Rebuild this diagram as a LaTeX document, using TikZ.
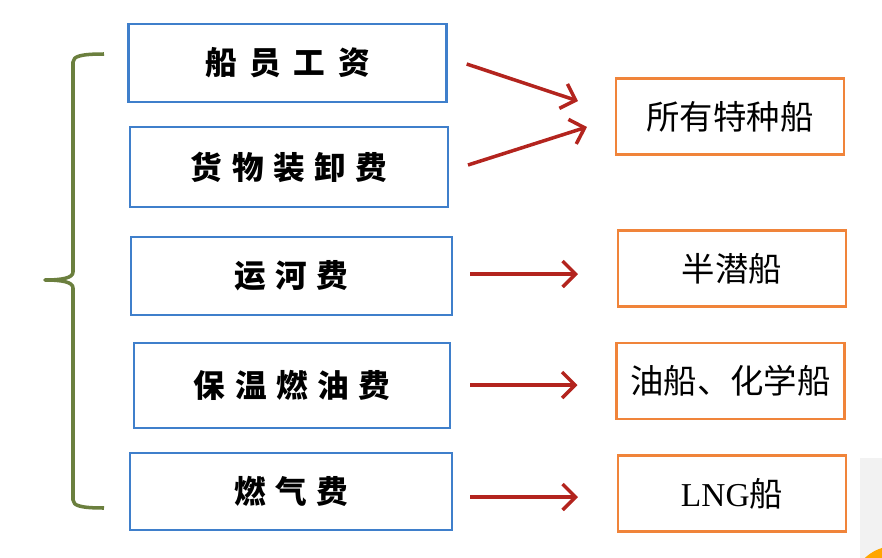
\documentclass[tikz,border=0pt]{standalone}
\usepackage{fontspec}
\newfontfamily\cjk{Noto Sans CJK SC}
\newfontfamily\latinserif{Liberation Serif}
\usepackage{tikz}
\usetikzlibrary{calc,arrows.meta,positioning}

\definecolor{costblue}{HTML}{3F7FCB}
\definecolor{shiporange}{HTML}{F0843A}
\definecolor{arrowred}{HTML}{B3241E}
\definecolor{bracegreen}{HTML}{6B7F3E}

\begin{document}
\begin{tikzpicture}[
  x=0.03cm, y=-0.03cm,
  cost/.style={draw=costblue, line width=2.2pt, inner sep=0pt, outer sep=0pt,
    minimum width=9.55cm, minimum height=2.35cm, font=\cjk\bfseries\fontsize{27}{30}\selectfont},
  ship/.style={draw=shiporange, line width=2.2pt, inner sep=0pt, outer sep=0pt,
    minimum width=6.84cm, minimum height=2.27cm, font=\cjk\fontsize{28.5}{30}\selectfont},
  flow/.style={arrowred, line width=3pt, -{Straight Barb[length=11pt, width=22pt, line width=3pt]}},
]
  \useasboundingbox (0,0) rectangle (882,558);

  % Left: cost items
  \node[cost] (wage) at (287.5,63) {船\hspace{0.4em}员\hspace{0.4em}工\hspace{0.4em}资};
  \node[cost, minimum width=9.54cm, minimum height=2.4cm] (cargo) at (289,167) {货\hspace{0.3em}物\hspace{0.3em}装\hspace{0.3em}卸\hspace{0.3em}费};
  \node[cost, minimum width=9.63cm] (canal) at (291.5,276) {运\hspace{0.3em}河\hspace{0.3em}费};
  \node[cost, minimum width=9.48cm, minimum height=2.55cm] (heating) at (292,385.5) {保\hspace{0.3em}温\hspace{0.3em}燃\hspace{0.3em}油\hspace{0.3em}费};
  \node[cost, minimum width=9.66cm, minimum height=2.31cm] (gasfee) at (291,491.5) {燃\hspace{0.3em}气\hspace{0.3em}费};

  % Right: ship types
  \node[ship] (allship) at (730,116.5) {所有特种船};
  \node[ship] (semisub) at (732,268.5) {半潜船};
  \node[ship] (tanker) at (730.5,381) {油船、化学船};
  \node[ship] (lng) at (732,493.5) {{\latinserif LNG}船};

  % Arrows
  \draw[flow] ($(wage.east)+(20,1)$) -- ($(allship.west)+(-38,-15.5)$);
  \draw[flow] ($(cargo.east)+(20,-2)$) -- ($(allship.west)+(-29,10.5)$);
  \draw[flow] ($(canal.east)+(18,-2)$) -- ($(semisub.west)+(-40,5.5)$);
  \draw[flow] ($(heating.east)+(20,-0.5)$) -- ($(tanker.west)+(-39,4)$);
  \draw[flow] ($(gasfee.east)+(18,5.5)$) -- ($(lng.west)+(-40,3.5)$);

  % Brace
  \draw[bracegreen, line width=3pt, line join=round]
    (104,54) .. controls (82,54) and (73,56) .. (73,62) -- (73,272)
    .. controls (73,278) and (62,280) .. (45,280)
    .. controls (62,280) and (73,282) .. (73,288) -- (73,500)
    .. controls (73,506) and (82,508) .. (104,508);

  % Corner fragments
  \fill[black!5] (860,458) rectangle (882,558);
  \begin{scope}
    \clip (860,458) rectangle (882,558);
    \fill[orange!70!yellow] (895,590) circle (44);
  \end{scope}
\end{tikzpicture}
\end{document}
